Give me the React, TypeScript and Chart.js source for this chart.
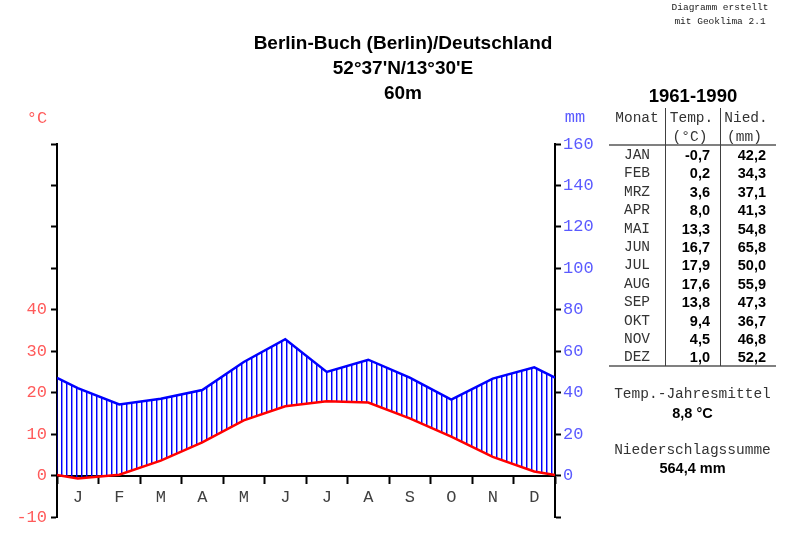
import React, { useEffect, useRef } from 'react';
import { Chart, registerables } from 'chart.js';

Chart.register(...registerables);

// ---------- data ----------
const monthLetters = ['J', 'F', 'M', 'A', 'M', 'J', 'J', 'A', 'S', 'O', 'N', 'D'];
const monthNames = ['JAN', 'FEB', 'MRZ', 'APR', 'MAI', 'JUN', 'JUL', 'AUG', 'SEP', 'OKT', 'NOV', 'DEZ'];
const tempC = [-0.7, 0.2, 3.6, 8.0, 13.3, 16.7, 17.9, 17.6, 13.8, 9.4, 4.5, 1.0];
const precipMm = [42.2, 34.3, 37.1, 41.3, 54.8, 65.8, 50.0, 55.9, 47.3, 36.7, 46.8, 52.2];
// curve values at the year boundary (left / right edge of the diagram)
const edgeTemp = 0.15;
const edgePrecip = 47.2;
const tempAxisMin = -10;
const tempAxisMax = 80;
const tempLabelMax = 40;
const precipAxisMin = -20;
const precipAxisMax = 160;
const titleLines = ['Berlin-Buch (Berlin)/Deutschland', "52°37'N/13°30'E", '60m'];
const period = '1961-1990';
const annualMeanLabel = 'Temp.-Jahresmittel';
const annualMeanValue = '8,8 °C';
const annualSumLabel = 'Niederschlagssumme';
const annualSumValue = '564,4 mm';
const creditLines = ['Diagramm erstellt', 'mit Geoklima 2.1'];

const MONO = "'Liberation Mono', 'Courier New', monospace";
const SANS = "'Liberation Sans', Arial, sans-serif";

const fmt = (v: number) => v.toFixed(1).replace('.', ',');

type TxtProps = {
  x: number; cy: number; text: string; align?: 'left' | 'center' | 'right';
  font: string; size: number; bold?: boolean; color?: string; w?: number;
};

function Txt({ x, cy, text, align = 'center', font, size, bold, color = '#000', w = 300 }: TxtProps) {
  const lh = Math.round(size * 1.4);
  let left = x - w / 2;
  if (align === 'left') left = x;
  if (align === 'right') left = x - w;
  return (
    <div
      style={{
        position: 'absolute', left, top: cy - lh / 2, width: w, height: lh, lineHeight: lh + 'px',
        fontFamily: font, fontSize: size, fontWeight: bold ? 'bold' : 'normal', color,
        textAlign: align, whiteSpace: 'pre',
      }}
    >
      {text}
    </div>
  );
}

function Line({ x, y, w, h, color }: { x: number; y: number; w: number; h: number; color: string }) {
  return <div style={{ position: 'absolute', left: x, top: y, width: w, height: h, background: color }} />;
}

export default function App() {
  const ref = useRef<HTMLCanvasElement | null>(null);

  useEffect(() => {
    const canvas = ref.current;
    if (!canvas) return;

    const pc = document.createElement('canvas');
    pc.width = 5;
    pc.height = 5;
    const pctx = pc.getContext('2d')!;
    pctx.fillStyle = '#0000ff';
    pctx.fillRect(1, 0, 1, 5);
    pctx.fillStyle = 'rgba(0,0,255,0.45)';
    pctx.fillRect(2, 0, 1, 5);
    const hatch = canvas.getContext('2d')!.createPattern(pc, 'repeat')!;

    const tData = [
      { x: 0, y: edgeTemp },
      ...tempC.map((v, i) => ({ x: i + 0.5, y: v })),
      { x: 12, y: edgeTemp },
    ];
    const pData = [
      { x: 0, y: edgePrecip },
      ...precipMm.map((v, i) => ({ x: i + 0.5, y: v })),
      { x: 12, y: edgePrecip },
    ];

    const tickFont = { family: MONO, size: 17 };

    const chart = new Chart(canvas, {
      type: 'line',
      data: {
        datasets: [
          {
            label: 'Temperatur',
            data: tData,
            xAxisID: 'x',
            yAxisID: 'y',
            borderColor: '#ff0000',
            borderWidth: 2.5,
            pointRadius: 0,
            tension: 0,
            fill: false,
          },
          {
            label: 'Niederschlag',
            data: pData,
            xAxisID: 'x',
            yAxisID: 'y2',
            borderColor: '#0000ff',
            borderWidth: 2.5,
            pointRadius: 0,
            tension: 0,
            fill: { target: 0, above: hatch, below: 'rgba(0,0,0,0)' },
          },
        ],
      },
      options: {
        animation: false,
        responsive: false,
        events: [],
        layout: { padding: { left: 0, top: 144, right: 200, bottom: 31 } },
        plugins: {
          legend: { display: false },
          tooltip: { enabled: false },
          title: { display: false },
        },
        scales: {
          x: {
            type: 'linear',
            axis: 'x',
            position: { y: 0 } as any,
            min: 0,
            max: 12,
            afterBuildTicks: (s: any) => {
              s.ticks = Array.from({ length: 25 }, (_, i) => ({ value: i / 2 }));
            },
            ticks: {
              autoSkip: false,
              maxRotation: 0,
              padding: 5,
              color: '#404040',
              font: tickFont,
              callback: (v: any) => (Number.isInteger(v) ? '' : monthLetters[Math.floor(v)]),
            },
            grid: {
              drawOnChartArea: false,
              tickLength: 7,
              tickWidth: 2,
              tickColor: (ctx: any) =>
                ctx.tick && Number.isInteger(ctx.tick.value) ? '#000' : 'rgba(0,0,0,0)',
            },
            border: { color: '#000', width: 2 },
          },
          y: {
            type: 'linear',
            position: 'left',
            min: tempAxisMin,
            max: tempAxisMax,
            afterFit: (s: any) => {
              s.width = 57;
            },
            ticks: {
              stepSize: 10,
              padding: 4,
              color: '#ff5a5a',
              font: tickFont,
              callback: (v: any) => (v <= tempLabelMax ? String(v) : ''),
            },
            grid: { drawOnChartArea: false, tickLength: 6, tickWidth: 2, tickColor: '#000' },
            border: { color: '#000', width: 2 },
          },
          y2: {
            type: 'linear',
            position: 'right',
            min: precipAxisMin,
            max: precipAxisMax,
            afterFit: (s: any) => {
              s.width = 45;
            },
            ticks: {
              stepSize: 20,
              padding: 2,
              color: '#5a5aff',
              font: tickFont,
              callback: (v: any) => (v >= 0 ? String(v) : ''),
            },
            grid: { drawOnChartArea: false, tickLength: 6, tickWidth: 2, tickColor: '#000' },
            border: { color: '#000', width: 2 },
          },
        },
      } as any,
    });

    return () => chart.destroy();
  }, []);

  const rowY = (i: number) => 155 + i * 18.4;

  return (
    <div style={{ position: 'absolute', left: 0, top: 0, width: 800, height: 548, background: '#fff', overflow: 'hidden' }}>
      <canvas ref={ref} width={800} height={548} style={{ position: 'absolute', left: 0, top: 0, width: 800, height: 548 }} />

      {creditLines.map((t, i) => (
        <Txt key={'c' + i} x={720} cy={7 + i * 14.5} text={t} font={MONO} size={9.5} color="#222" w={200} />
      ))}

      {titleLines.map((t, i) => (
        <Txt key={'t' + i} x={403} cy={42 + i * 25} text={t} font={SANS} size={19} bold w={420} />
      ))}

      <Txt x={37} cy={119} text="°C" font={MONO} size={17} color="#ff5a5a" w={60} />
      <Txt x={575} cy={118} text="mm" font={MONO} size={17} color="#5a5aff" w={60} />

      {/* table */}
      <Txt x={693} cy={96} text={period} font={SANS} size={18.5} bold w={160} />
      <Txt x={637} cy={117.5} text="Monat" font={MONO} size={14.5} color="#333" w={60} />
      <Txt x={691.5} cy={117.5} text="Temp." font={MONO} size={14.5} color="#333" w={60} />
      <Txt x={746} cy={117.5} text="Nied." font={MONO} size={14.5} color="#333" w={60} />
      <Txt x={690} cy={136.5} text="(°C)" font={MONO} size={14.5} color="#333" w={60} />
      <Txt x={744.5} cy={136.5} text="(mm)" font={MONO} size={14.5} color="#333" w={60} />
      <Line x={609} y={144} w={167} h={2} color="#808080" />
      <Line x={609} y={365} w={167} h={2} color="#808080" />
      <Line x={665} y={108} w={1} h={258} color="#404040" />
      <Line x={720} y={108} w={1} h={258} color="#404040" />
      {monthNames.map((m, i) => (
        <Txt key={'m' + i} x={637} cy={rowY(i)} text={m} font={MONO} size={14.5} color="#333" w={60} />
      ))}
      {tempC.map((v, i) => (
        <Txt key={'tv' + i} x={710} cy={rowY(i)} text={fmt(v)} font={SANS} size={14.5} bold align="right" w={50} />
      ))}
      {precipMm.map((v, i) => (
        <Txt key={'pv' + i} x={766} cy={rowY(i)} text={fmt(v)} font={SANS} size={14.5} bold align="right" w={50} />
      ))}

      <Txt x={692.5} cy={394} text={annualMeanLabel} font={MONO} size={14.5} color="#333" w={200} />
      <Txt x={692.5} cy={412.5} text={annualMeanValue} font={SANS} size={14.5} bold w={200} />
      <Txt x={692.5} cy={449.5} text={annualSumLabel} font={MONO} size={14.5} color="#333" w={200} />
      <Txt x={692.5} cy={468} text={annualSumValue} font={SANS} size={14.5} bold w={200} />
    </div>
  );
}
